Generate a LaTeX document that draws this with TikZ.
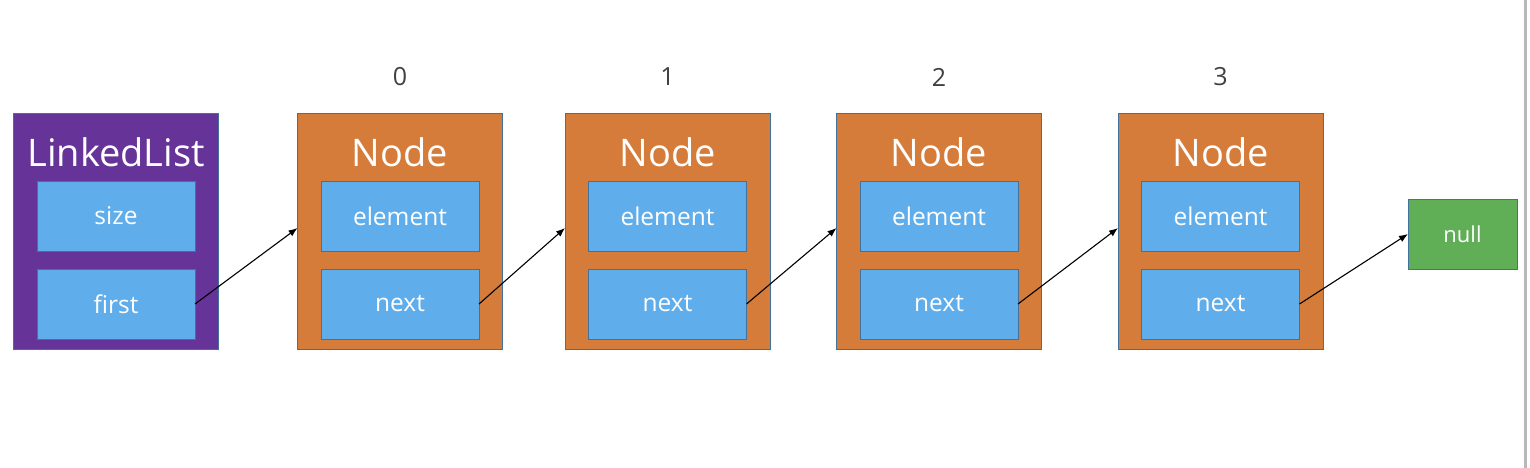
\documentclass[tikz,border=0pt]{standalone}
\usepackage{fontspec}
\setmainfont{Open Sans}
\usetikzlibrary{arrows.meta}
\definecolor{llpurple}{RGB}{102,51,153}
\definecolor{ndorange}{RGB}{213,124,58}
\definecolor{fldblue}{RGB}{95,173,235}
\definecolor{nullgreen}{RGB}{96,174,85}
\definecolor{edgeblue}{RGB}{65,113,156}
\definecolor{idxgray}{RGB}{64,64,64}
\definecolor{sidegray}{RGB}{184,184,184}
\tikzset{
  outerbox/.style={draw=edgeblue, line width=0.8pt, inner sep=0pt, outer sep=0pt, minimum width=205pt, minimum height=236pt},
  listbox/.style={outerbox, fill=llpurple},
  nodebox/.style={outerbox, fill=ndorange},
  fieldbox/.style={draw=edgeblue, line width=0.8pt, fill=fldblue, inner sep=0pt, outer sep=0pt, minimum width=158pt, minimum height=70pt, text=white, font=\fontsize{24.5}{28}\selectfont},
  nullbox/.style={draw=edgeblue, line width=0.8pt, fill=nullgreen, inner sep=0pt, outer sep=0pt, minimum width=109pt, minimum height=70pt, text=white, font=\fontsize{22}{26}\selectfont},
  titletext/.style={text=white, inner sep=0pt, font=\fontsize{38}{42}\selectfont},
  idxtext/.style={text=idxgray, inner sep=0pt, font=\fontsize{25}{28}\selectfont},
  ptr/.style={-{Latex[length=9pt,width=7pt]}, line width=1.1pt, black}
}
\begin{document}
\begin{tikzpicture}[x=1pt,y=-1pt]
\useasboundingbox (0,0) rectangle (1530,468);
\fill[white] (0,0) rectangle (1530,468);
\fill[sidegray] (1524,0) rectangle (1527,468);

% LinkedList
\node[listbox] (ll) at (115.5,231) {};
\node[titletext] (llt) at (116,152) {LinkedList};
\node[fieldbox] (size) at (116,216) {size};
\node[fieldbox] (first) at (116,304) {first};

% Nodes
\foreach \i/\cx in {0/400,1/667.5,2/939,3/1220.5}{
  \node[nodebox] (n\i) at (\cx,231) {};
  \node[titletext] (t\i) at (\cx,152) {Node};
  \node[fieldbox] (e\i) at (\cx,216) {element};
  \node[fieldbox] (x\i) at (\cx,304) {next};
  \node[idxtext] (i\i) at (\cx,77) {\i};
}

\node[nullbox] (null) at (1462.5,234) {null};

\draw[ptr] (first.east) -- ([yshift=3pt]n0.west);
\draw[ptr] (x0.east) -- ([yshift=3pt]n1.west);
\draw[ptr] (x1.east) -- ([yshift=3pt]n2.west);
\draw[ptr] (x2.east) -- ([yshift=3pt]n3.west);
\draw[ptr] (x3.east) -- (null.west);
\end{tikzpicture}
\end{document}
